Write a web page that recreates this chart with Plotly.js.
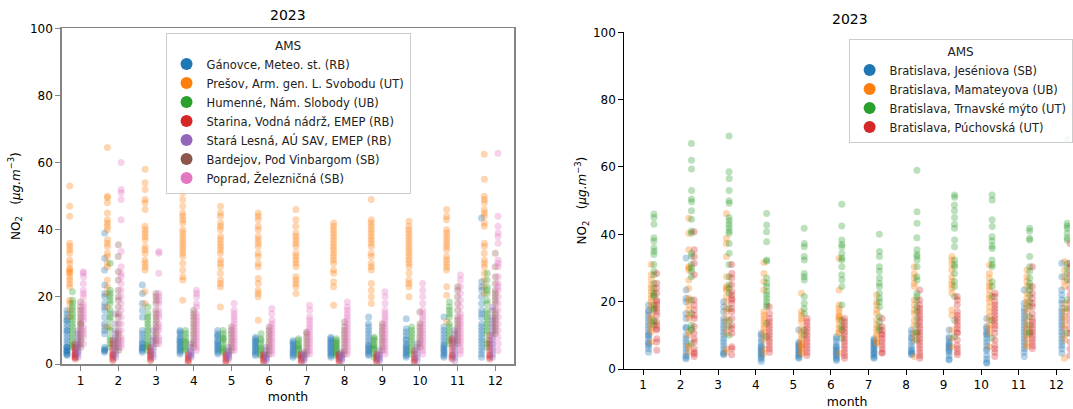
<!DOCTYPE html>
<html><head><meta charset="utf-8">
<script src="https://cdn.plot.ly/plotly-3.0.1.min.js"></script>
<style>html,body{margin:0;padding:0;overflow:hidden;background:#fff}#chart{width:1073px;height:409px}</style>
</head><body><div id="chart"></div>
<script>
const months = [1,2,3,4,5,6,7,8,9,10,11,12];
const monthLabels = ['1','2','3','4','5','6','7','8','9','10','11','12'];
const yTicks = [0,20,40,60,80,100];
const chartTitle = '2023';
const legendTitle = 'AMS';

// ---- left panel: eastern Slovakia stations (NO2 daily values per month) ----
const eastStations = ['Gánovce, Meteo. st. (RB)','Prešov, Arm. gen. L. Svobodu (UT)','Humenné, Nám. Slobody (UB)','Starina, Vodná nádrž, EMEP (RB)','Stará Lesná, AÚ SAV, EMEP (RB)','Bardejov, Pod Vinbargom (SB)','Poprad, Železničná (SB)'];
const ganovce = [
[16,15,14,13,13,12,11,10,10,9,8,7,6,5,5,5,4,4,4,3.5,3,3,2.5],
[39,31.5,28,23.5,21,20,18,17,16,14,12,11,10,9,5,4.5,4,4,3.5],
[23.5,21,18,16,14,10,9,8,7,6,6,5,5,4.5,4,3.5],
[10,9.5,9,8,7.5,7,6.5,6,5.5,5,4.5,4,3.5,3],
[10,9,8.5,8,7,6.5,6,5.5,5,4.5,4,3.5,3],
[8,7.5,7,6.5,6,5.5,5,4.5,4,3.5,3,2.5],
[7,6.5,6,5.5,5,4.5,4,3.5,3,2.5,2],
[8,7.5,7,6.5,6,5.5,5,4.5,4,3.5,3,2.5,2],
[14,12,11,10,9,8,7,6,5.5,5,4.5,4,3.5,3,2.5],
[13.5,10.5,9.5,8.5,7.5,7,6,5.5,5,4.5,4,3.5,3,2.5,2],
[14,11,10,9,8,7,6,5.5,5,4.5,4,3.5,3,2.5,2],
[43.5,24.5,23,22,20,18,16,15,14,12,11,10,9,8,7,6,5,4,3,2]
];
const presov = [
[53,47,44,36,35,34,33,31,30,28.5,28,27.5,27,26,25,24,23,19,18,16,14],
[64.5,50,49.5,48,45,43,42,41,40,37,36,35,33,32,30,29,25,23,21,17,11],
[58,54,52,49,48,46,41,40,39,38,37,35,34,33,31,30,29,28,21.5,18],
[51,49,47,45,44,43,42,40,39,38,37,36,35,34,33,32,30,28,26,25,19],
[53,47,45,44,42,41,40,38,37,36,35,34,33,31,30,29,27,25,24,23,17],
[45,44,43,41,40,38,37,36,35,33,32,30,29,25.5,24,22,21,20,13],
[46,43,41,39,38,37,36,35,33,32,31,30,29,26,25,24,23,21],
[42,41,40,39,38,37,36,35,34,33,32,31,30,28,27,24.5,23,17.5],
[49,43,42,41,40,39,38,37,36,35,33,32,30,29,28,24,22,20,18],
[42.5,41,40,39,38,37,36,35,34,33,32,31,30,29,27,25,24,23,20],
[46,44,43,40,39,38,37,36,35,34,32,31,30,29,28,23,20.5,12.6],
[62.5,55,50,49,48,46,45,44,42,41,36,35,33,31,30,29,27,25,23,21]
];
const humenne = [
[21.5,19,18,17,16,15,14,13,12,11,10,9,8,7,6,5.5,5],
[30,22,21,20,19,18,16,15,14,13,11,10,8,7,6,5],
[17,15,14,13,12,11,10,9,8,7,6,5.5,5,4],
[10,9,8,7,6.5,6,5,4.5,4],
[10,9,8,7.5,7,6,5,4.5,4,3.5],
[9,7.5,7,6,5,4.5,4,3,2.5],
[7.5,7,6,5.5,5,4.5,4,3,2.5],
[7.5,7,6.5,6,5.5,5,4.5,4,3.5,3,2.5],
[8,7.5,7,6,5.5,5,4.5,4,3,2],
[11,10,9,8,7,6,5,4,3],
[18.5,17,16,15,14,12,11,10,9,8,7,6],
[27,25,23,22,21,19,18,16,15,14,13,12,11,10,9,7,6,5]
];
const starina = [
[1.5,2,2,2.5,3,3,3.5,4,4.5,5,6],
[1,1.5,2,2.5,3,3,4,5,6,7],
[1,1.5,2,2.5,3,3.5,4,5],
[0.5,1,1.5,2,2.5,3],
[0.5,1,1.5,2,2.5,3],
[0.5,1,1.5,2,2.5,3],
[0.5,1,1.5,2,2.5,3],
[0.5,1,1.5,2,2.5,3],
[0.5,1,1.5,2,2.5,3],
[0.5,1,1.5,2,3,4],
[7.5,7,6,5,4,3,2.5,2,1.5],
[8.5,7,6,5,4,3,2.5,2,1.5]
];
const staraLesna = [
[2,3,3.5,4,5,5.5,6,7,8,9,10],
[15,12,10,9,8,7,6,5,4,3,2],
[10,8,7,6,5,4,3,2],
[2,2.5,3,3.5,4,5,6],
[1.5,2,2.5,3,3.5,4,5],
[1,1.5,2,2.5,3,4,5],
[1,1.5,2,2.5,3,3.5],
[1,1.5,2,2.5,3,3.5],
[1,1.5,2,2.5,3,4],
[1,2,3,4,5,6],
[10,9,8,7,6,5,4,3,2,1],
[17,16,14,13,12,11,10,9,8,7,6,5,4,3,2]
];
const bardejov = [
[18.5,17,16,15,14,13,12,12,11,10,9,8,7,6,5],
[35.5,32,27.5,25,22,20,19,17,15,14,12,10,9,8,7,6,5,4],
[21,20,19,18,16,15,14,13,12,11,10,9,8,7,6],
[16,15,14,13,12,11,10,9,8,7,6,5],
[11,10,9,8,7,6,5,4],
[11,10,9,8,7,6,5,4,3],
[9.5,9,8,7,6,5,4,3],
[12.5,11,10,9,8,7,6,5,4,3],
[12,11,10,9,8,7,6,5,4],
[15.5,12,11,10,9,8,7,6,5],
[23,22,20,18,16,14,13,12,11,10,9,8,7,6],
[33,29,26,24,22,21,20,19,18,16,15,14,13,12,11,10,9]
];
const poprad = [
[27.5,27,26,24,22,21,20,18,17,16,15,14,13,11,10,9,8,6],
[60,52,51,49,43,33.5,29,27,26,24,22,20,18,16,14,12,10,8,7,6,5],
[33.5,33,27,21,20,19,18,16,15,14,12,11,10,8,7,6],
[22,21,20,18,17,15,14,13,12,11,10,9,8,7,6,5,4],
[18,16,15,14,13,12,11,10,9,8,7,6,5,4],
[16.5,15,13,12,11,10,9,8,7,6,5,4,3],
[17.5,16,14,13,12,11,10,9,8,7,6,5,4,3],
[18.5,17,16,15,14,13,12,11,10,9,8,7,6,5,4,3],
[21.5,20,18,16,15,14,13,12,11,10,9,8,7,6,5,4,3],
[24,22,20,18,16,15,14,13,12,11,10,9,8,7,6,5,4,3],
[26.5,25,23,21,19,17,15,14,13,12,11,10,9,8,7,6,5,4,3],
[62.8,44,41,39,38,36,31,30,29,26,24,23,22,20,18,16,14,12,10,8,6,4]
];

// ---- right panel: Bratislava stations ----
const baStations = ['Bratislava, Jeséniova (SB)','Bratislava, Mamateyova (UB)','Bratislava, Trnavské mýto (UT)','Bratislava, Púchovská (UT)'];
const jeseniova = [
[19,17.5,17,16,15,14,13,12,11,10,10,9,8,7.5,7,6,5],
[33,23.5,21,20,16.5,15,12.5,12,10,9,8,7,6,5,4,3.5,3],
[20,18.5,17,15,14,13,12,11,10,9,8,7,6,5,4.5,4.2],
[10.6,10,9,8,7,6.5,6,5.5,5,4.5,4,3.5,3,2.2],
[11.6,8,7.5,7,6.5,6,5.5,5,4.5,4,3.5,3.2],
[9.6,9,8,7,6.5,6,5.5,5,4.5,4,3.5,3,2.5],
[9,8.5,8,7.5,7,6.5,6,5.5,5,4.5,4,3.5,3.2],
[11.6,10.6,9.5,9,8,7,6,5.5,5,4.5,4.2],
[11.6,9.5,9,8,7.5,7,6.5,6,5.5,5,4,3,2.7],
[15,12.6,12,11,10.5,10,9,8,7,6,5.5,4,3,2,1.7],
[23.5,19.5,18,17,16,15,14,13,12,11,10,9,8,7,6,5,3.7],
[31.4,27.4,23.5,22,20.5,19.5,18,17,16,15,14,13,12,11,10,9,8,7,6,4.7]
];
const mamateyova = [
[31,28,26.5,25,24,23,22,21,20,19,18,16,15,14,13,12,11,8],
[44.8,40.3,35.4,30.4,30,29.4,26.4,24,21,20.5,19,17.5,16,15,11,10,7,6.5,5],
[46.2,38.8,37.3,33.4,27.4,24.5,24,23.5,21.5,20,18,17,15,14,12,10.6,6,5],
[31.6,28.4,26,23.5,17,16,15,14,13,12,11,10,8.6,6,4.7],
[22.5,17,16,15,14,12,11,10,9,8,7.5,7,6.5,6,5,4.5],
[32.9,23.5,19,18,17,16,15.5,15,14.5,13,12,11,10.6,4.7],
[22,20,19,17.5,16.5,14.5,13,12,11,10,9,8,7.6],
[30.4,28.4,27,25.5,24.5,20.5,19,17.5,16.5,14.5,13,11,10,8.6,3.7],
[33.4,32.4,31,29.4,27.4,26,25,24,22.5,17.5,16,11.6,9.1,6.6],
[30.9,28.4,27,25.5,24.5,23.5,22,21,20,18.5,17,15.5,14.5,13,12,10.6,6.6],
[29.4,27.4,26,24.5,22.5,21,20,19,18,16.5,14.5,13,12,11,10,9,7.5,6.6],
[31.9,29.4,27.4,26,24.5,19.5,18,17,15.5,14.5,13,12,10,8.6,3.2]
];
const trnavske = [
[46,45,43,39,38,36,35,34,31,29,28,25.5,24,22.5,22,21.5,19,18,17.5,14.5,14,13],
[67,62,59.4,53,50.5,49.7,47,44.5,41,40.3,34.4,33.5,31,30,29,27.4,20.5,16.5,13,12,11.5,7.6],
[69.2,58.6,56.6,53,50,49.2,45,44,43,42,41,40.3,37.3,34.4,31,27.4,25,24,22.5,18,14.5,12.6,10],
[46.2,42.8,40.8,37.8,32.4,32,27,25.5,24.5,23,22,21,20,19,18.5,13.6,9.6],
[41.8,37.3,36.3,33.4,32.4,28.4,27.4,26.4,21.5,19.5,18,16.5,11.6,10],
[48.9,42.5,38.3,37,36.3,34.4,33,32.4,30.4,28,26.5,24.5,19,14.5,12.6,11.6,9.1],
[40,34.9,33.4,30.4,29,27,25.5,24.5,22.5,21,20,18.5,15.5,14,12.5,11.6],
[59,46.7,43.3,39,35.4,34,33.4,32.4,30.4,27.4,26.4,22.5,21.5,20.5,18.5,17,15,13,11,10.6,8.6],
[51.7,51,48.7,47,45,43,41.8,38.3,36.3,32.4,31,30.4,28.4,26,24.5,21.5,14.5,9.6],
[51.7,50.2,44.3,42.3,39.3,38,36.5,35.8,32.4,31,30.4,25.9,24.5,21.5,14.5,9.1],
[41.8,41,38.8,38.3,33.4,30.4,29,27,25.5,24.5,23.5,22,20,18.5,15.5,13,11,10.6],
[68.2,43.3,42.5,41.8,40.3,39,38.3,31.4,30,28.4,26.4,20.5,18,10.6]
];
const puchovska = [
[28.4,25.5,24,22.5,20.5,20,19,18,17,16,14,13,12,11.6,9,8,5.6],
[40.8,35.4,33.4,31.4,28,20.5,19,17.5,16,15,12.6,10.6,9,8,6,5,4.5,3.7],
[31,28.4,27,25,23,22,21,20.5,19.5,18,17,15,13,12,10.6,6.6,6,4.2],
[18.5,16.5,15,14,13,12,11,10,9,8,7,6,5],
[15,14,13,12,11,10,9,8,7,6,5,4],
[15,14,13,12,11,10,9,8,7,6,5,4,3.2],
[15,12.6,11.5,10.5,10,9,8,7,6,5,4.7],
[23.5,20.5,19,18,17,16,15,14,13,12,11,10,9,8,7,6,5,4,3.2],
[21.5,20.5,19,17,16,15,14,13,12,11,10.6,8.6,7,6,5,4.2],
[22.5,21.5,20,19,18,17,16,15,14,13,12,10.6,8.6,7,6,5,3.7],
[30.4,24.5,22.5,21,19.5,18.5,16.5,15,14,13,12,11,10,9,8,7,6.1],
[37.3,31.4,30.4,28,26,24,22,20,18,16,14,12,10.6,8,6,4]
];

const palette = ['#1f77b4','#ff7f0e','#2ca02c','#d62728','#9467bd','#8c564b','#e377c2'];
const eastData = [ganovce, presov, humenne, starina, staraLesna, bardejov, poprad];
const baData = [jeseniova, mamateyova, trnavske, puchovska];

function stripTrace(vals, name, color, xa, ya, jit) {
  const x = [], y = [];
  vals.forEach((arr, i) => arr.forEach(v => { x.push(months[i]); y.push(v); }));
  return {
    type: 'box', x: x, y: y, name: name, xaxis: xa, yaxis: ya,
    boxpoints: 'all', jitter: jit, pointpos: 0,
    fillcolor: 'rgba(0,0,0,0)', line: {color: 'rgba(0,0,0,0)', width: 0},
    marker: {color: color, size: 7, opacity: 0.32, line: {width: 0}},
    showlegend: false, hoverinfo: 'y'
  };
}
function legendTrace(name, color, xa, ya, lg) {
  return {type: 'scatter', mode: 'markers', x: [null], y: [null], name: name,
    xaxis: xa, yaxis: ya, legend: lg, marker: {color: color, size: 8}, hoverinfo: 'skip'};
}

const traces = [];
eastData.forEach((d, i) => traces.push(stripTrace(d, eastStations[i], palette[i], 'x', 'y', 0.12)));
baData.forEach((d, i) => traces.push(stripTrace(d, baStations[i], palette[i], 'x2', 'y2', 0.1)));
eastStations.forEach((n, i) => traces.push(legendTrace(n, palette[i], 'x', 'y', 'legend')));
baStations.forEach((n, i) => traces.push(legendTrace(n, palette[i], 'x2', 'y2', 'legend2')));

const W = 1073, H = 409;
const yTitle = 'NO<sub>2</sub>\u00a0\u00a0\u00a0(<i>μg.m</i><sup>−3</sup>)';
const leftLine = '#858585';
function xAxis(domain, range, lc, lw, mirror, anchor) {
  return {domain: domain, range: range, anchor: anchor, tickvals: months, ticktext: monthLabels,
    showline: true, linecolor: lc, linewidth: lw, mirror: mirror, ticks: 'outside', ticklen: 5,
    tickcolor: lc, tickwidth: 1, showgrid: false, zeroline: false, fixedrange: true,
    tickfont: {size: 12}, title: {text: 'month', font: {size: 12.5}, standoff: 5}};
}
function yAxis(domain, lc, lw, mirror, anchor, standoff) {
  return {domain: domain, range: [0, 100], anchor: anchor, tickvals: yTicks,
    showline: true, linecolor: lc, linewidth: lw, mirror: mirror, ticks: 'outside', ticklen: 5,
    tickcolor: lc, tickwidth: 1, showgrid: false, zeroline: false, fixedrange: true,
    tickfont: {size: 12}, title: {text: yTitle, font: {size: 12}, standoff: standoff}};
}
const legendCommon = {
  bgcolor: 'rgba(255,255,255,0.85)', bordercolor: '#cccccc', borderwidth: 1,
  font: {size: 11.5, family: 'DejaVu Sans', color: '#222'},
  title: {text: legendTitle, side: 'top center', font: {size: 12, family: 'DejaVu Sans'}},
  xanchor: 'left', yanchor: 'top', itemsizing: 'constant', itemclick: false
};

const layout = {
  width: W, height: H, margin: {l: 0, r: 0, t: 0, b: 0},
  paper_bgcolor: '#ffffff', plot_bgcolor: '#ffffff',
  font: {family: 'DejaVu Sans', size: 12, color: '#000'},
  boxmode: 'group', boxgap: 0.2, boxgroupgap: 0,
  xaxis: xAxis([62/W, 515.6/W], [0.5, 12.5], leftLine, 1.6, true, 'y'),
  yaxis: yAxis([45/H, 380.7/H], leftLine, 1.6, true, 'x', 7),
  xaxis2: xAxis([626/W, 1], [0.5, 12.364], '#000', 1, false, 'y2'),
  yaxis2: yAxis([40/H, 376.7/H], '#000', 1, false, 'x2', 3),
  legend: Object.assign({}, legendCommon, {x: 166/W, y: (H-33)/H}),
  legend2: Object.assign({}, legendCommon, {x: 851/W, y: (H-39)/H}),
  annotations: [
    {text: chartTitle, xref: 'paper', yref: 'paper', x: 288.8/W, y: (H-15)/H, xanchor: 'center', yanchor: 'middle', showarrow: false, font: {size: 14}},
    {text: chartTitle, xref: 'paper', yref: 'paper', x: 852/W, y: (H-19)/H, xanchor: 'center', yanchor: 'middle', showarrow: false, font: {size: 14}}
  ],
  showlegend: true
};

Plotly.newPlot('chart', traces, layout, {displayModeBar: false, staticPlot: true});
</script>
</body></html>
